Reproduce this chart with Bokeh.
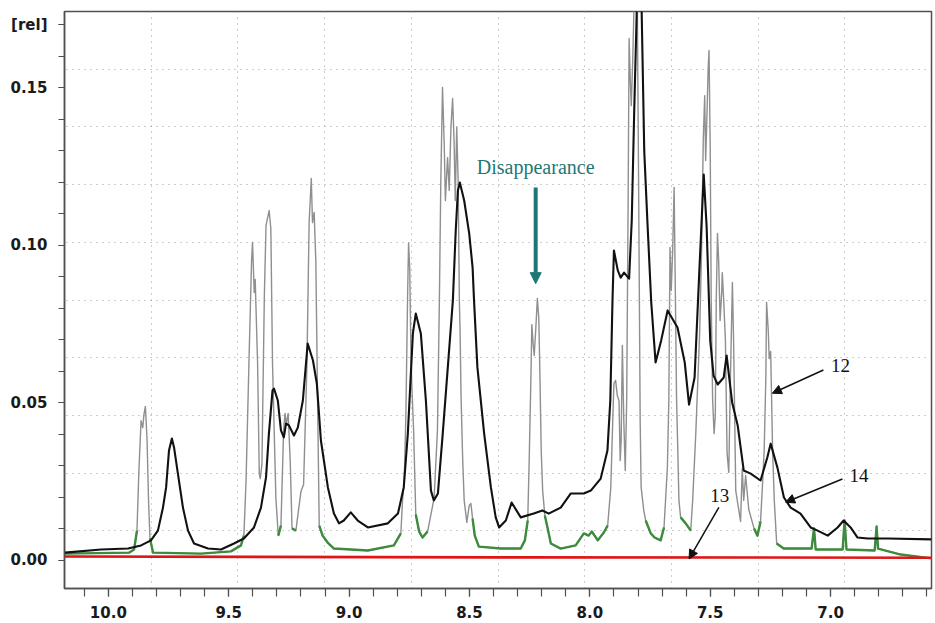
import numpy as np
from bokeh.plotting import figure
from bokeh.models import Range1d, FixedTicker, Label, Arrow, NormalHead, NumeralTickFormatter
from bokeh.embed import file_html
from bokeh.resources import INLINE

# ---- spectrum 14 (broad, black) : chemical shift [ppm], intensity [rel]
black_ppm = [10.180, 10.030, 9.918, 9.864, 9.823, 9.794, 9.773, 9.760, 9.748, 9.736, 9.727, 9.711,
             9.690, 9.669, 9.644, 9.586, 9.532, 9.478, 9.437, 9.395, 9.366, 9.345, 9.333, 9.318,
             9.312, 9.296, 9.283, 9.271, 9.262, 9.250, 9.229, 9.213, 9.192, 9.172, 9.150, 9.134,
             9.117, 9.088, 9.063, 9.042, 9.022, 8.993, 8.964, 8.922, 8.839, 8.797, 8.773, 8.756,
             8.735, 8.723, 8.702, 8.681, 8.660, 8.648, 8.631, 8.611, 8.590, 8.569, 8.557, 8.548,
             8.540, 8.522, 8.501, 8.487, 8.481, 8.467, 8.439, 8.411, 8.391, 8.377, 8.349, 8.325,
             8.287, 8.233, 8.197, 8.171, 8.121, 8.079, 8.025, 7.996, 7.955, 7.927, 7.915, 7.906,
             7.900, 7.884, 7.872, 7.858, 7.837, 7.826, 7.816, 7.805, 7.797, 7.785, 7.774, 7.760,
             7.745, 7.727, 7.704, 7.677, 7.636, 7.606, 7.588, 7.565, 7.544, 7.527, 7.515, 7.500,
             7.486, 7.469, 7.444, 7.432, 7.409, 7.386, 7.361, 7.332, 7.291, 7.263, 7.249, 7.221,
             7.194, 7.166, 7.125, 7.083, 7.054, 7.012, 6.971, 6.946, 6.917, 6.888, 6.846, 6.763, 6.581]
black_rel = [0.0024, 0.0034, 0.0037, 0.0047, 0.0063, 0.0094, 0.0167, 0.0231, 0.0348, 0.0386, 0.0358, 0.0275,
             0.0167, 0.0094, 0.0053, 0.0037, 0.0034, 0.0053, 0.0069, 0.0104, 0.0167, 0.0263, 0.0402, 0.0539,
             0.0545, 0.0507, 0.0412, 0.0390, 0.0434, 0.0428, 0.0396, 0.0421, 0.0507, 0.0688, 0.0634, 0.0561,
             0.0380, 0.0231, 0.0148, 0.0117, 0.0126, 0.0152, 0.0126, 0.0104, 0.0117, 0.0148, 0.0231, 0.0402,
             0.0720, 0.0783, 0.0720, 0.0507, 0.0221, 0.0190, 0.0212, 0.0402, 0.0612, 0.0824, 0.1047, 0.1174,
             0.1199, 0.1142, 0.1037, 0.0929, 0.0824, 0.0612, 0.0402, 0.0231, 0.0136, 0.0104, 0.0126, 0.0183,
             0.0136, 0.0148, 0.0158, 0.0148, 0.0167, 0.0212, 0.0212, 0.0221, 0.0259, 0.0348, 0.0508, 0.0824,
             0.0983, 0.0920, 0.0897, 0.0913, 0.0894, 0.1078, 0.1418, 0.1750, 0.1870, 0.1750, 0.1297, 0.1059,
             0.0818, 0.0628, 0.0697, 0.0793, 0.0739, 0.0628, 0.0494, 0.0580, 0.0939, 0.1224, 0.1059, 0.0697,
             0.0586, 0.0558, 0.0580, 0.0650, 0.0501, 0.0428, 0.0285, 0.0275, 0.0253, 0.0326, 0.0370, 0.0294,
             0.0199, 0.0167, 0.0148, 0.0104, 0.0094, 0.0078, 0.0104, 0.0126, 0.0104, 0.0072, 0.0069, 0.0069, 0.0066]

# ---- spectrum 12 (sharp, grey / green)
sharp_ppm = [10.180, 9.914, 9.893, 9.881, 9.873, 9.864, 9.857, 9.852, 9.846, 9.839, 9.833, 9.827, 9.814,
             9.615, 9.491, 9.449, 9.437, 9.428, 9.415, 9.405, 9.401, 9.394, 9.390, 9.380, 9.373, 9.369,
             9.362, 9.352, 9.345, 9.332, 9.325, 9.318, 9.304, 9.294, 9.283, 9.272, 9.266, 9.261, 9.253,
             9.244, 9.237, 9.221, 9.200, 9.189, 9.175, 9.166, 9.157, 9.152, 9.145, 9.138, 9.131, 9.124,
             9.110, 9.089, 9.063, 8.922, 8.814, 8.785, 8.778, 8.771, 8.764, 8.757, 8.753, 8.748, 8.743,
             8.739, 8.732, 8.723, 8.709, 8.695, 8.674, 8.647, 8.633, 8.625, 8.619, 8.612, 8.605, 8.600,
             8.591, 8.584, 8.577, 8.570, 8.564, 8.559, 8.553, 8.547, 8.542, 8.539, 8.535, 8.528, 8.522,
             8.511, 8.501, 8.494, 8.487, 8.478, 8.461, 8.370, 8.287, 8.270, 8.258, 8.252, 8.245, 8.241,
             8.235, 8.231, 8.225, 8.218, 8.212, 8.207, 8.202, 8.196, 8.187, 8.176, 8.162, 8.121, 8.059,
             8.025, 8.005, 7.992, 7.967, 7.942, 7.926, 7.913, 7.905, 7.900, 7.893, 7.886, 7.879, 7.874,
             7.870, 7.865, 7.859, 7.853, 7.847, 7.841, 7.837, 7.832, 7.828, 7.822, 7.816, 7.809, 7.803,
             7.797, 7.791, 7.787, 7.776, 7.768, 7.747, 7.731, 7.706, 7.692, 7.678, 7.672, 7.667, 7.662,
             7.656, 7.650, 7.645, 7.640, 7.630, 7.623, 7.602, 7.581, 7.573, 7.560, 7.544, 7.536, 7.529,
             7.523, 7.519, 7.513, 7.509, 7.505, 7.500, 7.496, 7.490, 7.484, 7.479, 7.475, 7.470, 7.465,
             7.459, 7.452, 7.450, 7.444, 7.437, 7.430, 7.423, 7.416, 7.408, 7.403, 7.394, 7.374, 7.367,
             7.361, 7.353, 7.340, 7.318, 7.304, 7.291, 7.282, 7.276, 7.269, 7.266, 7.259, 7.255, 7.249,
             7.245, 7.241, 7.234, 7.224, 7.195, 7.079, 7.069, 7.062, 6.950, 6.942, 6.934, 6.817, 6.809,
             6.803, 6.709, 6.581]
sharp_rel = [0.0021, 0.0024, 0.0034, 0.0094, 0.0285, 0.0443, 0.0421, 0.0463, 0.0488, 0.0380, 0.0190, 0.0069, 0.0024,
             0.0021, 0.0028, 0.0047, 0.0078, 0.0250, 0.0656, 0.0951, 0.1009, 0.0850, 0.0891, 0.0624, 0.0275, 0.0259,
             0.0304, 0.0837, 0.1063, 0.1110, 0.1053, 0.0624, 0.0196, 0.0078, 0.0110, 0.0412, 0.0466, 0.0431, 0.0466,
             0.0304, 0.0101, 0.0094, 0.0218, 0.0240, 0.0624, 0.1072, 0.1212, 0.1072, 0.1104, 0.0945, 0.0516, 0.0110,
             0.0078, 0.0056, 0.0037, 0.0031, 0.0047, 0.0085, 0.0190, 0.0250, 0.0466, 0.0837, 0.1006, 0.0923, 0.0647,
             0.0548, 0.0412, 0.0145, 0.0091, 0.0072, 0.0091, 0.0196, 0.0412, 0.0824, 0.1205, 0.1501, 0.1323, 0.1142,
             0.1278, 0.1174, 0.1374, 0.1466, 0.1332, 0.1142, 0.1374, 0.1205, 0.0824, 0.0729, 0.0520, 0.0316, 0.0190,
             0.0120, 0.0174, 0.0180, 0.0132, 0.0078, 0.0043, 0.0037, 0.0037, 0.0063, 0.0126, 0.0316, 0.0571, 0.0748,
             0.0682, 0.0650, 0.0729, 0.0831, 0.0767, 0.0571, 0.0348, 0.0221, 0.0142, 0.0104, 0.0053, 0.0037, 0.0047,
             0.0085, 0.0078, 0.0091, 0.0063, 0.0088, 0.0110, 0.0231, 0.0443, 0.0561, 0.0571, 0.0523, 0.0507, 0.0316,
             0.0380, 0.0682, 0.0443, 0.0285, 0.0507, 0.1142, 0.1656, 0.1523, 0.1443, 0.1586, 0.1777, 0.1840, 0.1777,
             0.1142, 0.0443, 0.0231, 0.0158, 0.0126, 0.0085, 0.0072, 0.0063, 0.0104, 0.0294, 0.0507, 0.0993, 0.0856,
             0.0983, 0.1183, 0.0856, 0.0520, 0.0190, 0.0136, 0.0117, 0.0094, 0.0190, 0.0402, 0.0720, 0.0983, 0.1332,
             0.1475, 0.1269, 0.1428, 0.1555, 0.1618, 0.1301, 0.0824, 0.0507, 0.0402, 0.0459, 0.0824, 0.1037, 0.0951,
             0.0761, 0.0856, 0.0913, 0.0824, 0.0697, 0.0339, 0.0279, 0.0580, 0.0882, 0.0697, 0.0221, 0.0123, 0.0291,
             0.0190, 0.0269, 0.0161, 0.0101, 0.0078, 0.0123, 0.0253, 0.0348, 0.0580, 0.0818, 0.0729, 0.0640, 0.0663,
             0.0507, 0.0348, 0.0190, 0.0053, 0.0037, 0.0037, 0.0101, 0.0034, 0.0034, 0.0126, 0.0034, 0.0031, 0.0107,
             0.0037, 0.0018, 0.0006]

# ---- spectrum 13 (red, flat)
red_ppm = [10.180, 8.400, 6.581]
red_rel = [0.0012, 0.0009, 0.0008]

x_major = [10.0, 9.5, 9.0, 8.5, 8.0, 7.5, 7.0]
y_major = [0.0, 0.05, 0.10, 0.15, 0.17]

TEAL = "#1f7775"

x0, x1 = 10.182, 6.581
y0, y1 = -0.00898, 0.17419

p = figure(width=935, height=623, output_backend="svg", toolbar_location=None,
           x_range=Range1d(x0, x1), y_range=Range1d(y0, y1),
           min_border_left=64, min_border_right=4, min_border_top=11, min_border_bottom=35)
p.background_fill_color = "white"
p.border_fill_color = "white"
p.outline_line_color = "#505050"
p.outline_line_width = 1.5

# grid divides frame into 10 x 10 cells
p.xgrid.ticker = FixedTicker(ticks=[x0 + k * (x1 - x0) / 10 for k in range(1, 10)])
p.ygrid.ticker = FixedTicker(ticks=[y0 + k * (y1 - y0) / 10 for k in range(1, 10)])
for g in (p.xgrid, p.ygrid):
    g.grid_line_color = "#9a9a9a"
    g.grid_line_dash = "1 5"
    g.grid_line_width = 1

x_minor = [round(6.6 + 0.1 * i, 1) for i in range(36)]
y_minor = [round(0.01 * i, 2) for i in range(18)]
p.xaxis.ticker = FixedTicker(ticks=x_major, minor_ticks=x_minor)
p.yaxis.ticker = FixedTicker(ticks=y_major, minor_ticks=y_minor)
p.xaxis.formatter = NumeralTickFormatter(format="0.0")
p.yaxis.formatter = NumeralTickFormatter(format="0.00")
p.yaxis.major_label_overrides = {0.17: "[rel]"}

for ax, tout in ((p.xaxis, 8), (p.yaxis, 6)):
    ax.axis_line_color = "#505050"
    ax.axis_line_width = 1.5
    ax.major_tick_line_color = "#505050"
    ax.minor_tick_line_color = "#505050"
    ax.major_tick_line_width = 1.2
    ax.minor_tick_line_width = 1.2
    ax.major_tick_in = 0
    ax.minor_tick_in = 0
    ax.major_tick_out = tout
    ax.minor_tick_out = tout
    ax.major_label_text_font = "DejaVu Sans"
    ax.major_label_text_font_style = "bold"
    ax.major_label_text_font_size = "15px"
    ax.major_label_text_color = "#1a1a1a"
p.xaxis.major_label_standoff = 9
p.yaxis.major_label_standoff = 11

# spectra
sharp_rel_arr = np.array(sharp_rel)
green_rel = np.where(sharp_rel_arr < 0.015, sharp_rel_arr, np.nan)
p.line(sharp_ppm, sharp_rel, line_color="#8f8f8f", line_width=1.4, line_join="round")
p.line(sharp_ppm, green_rel, line_color="#3d8b3d", line_width=2.4, line_join="round")
p.line(black_ppm, black_rel, line_color="#111111", line_width=2.1, line_join="round")
p.line(red_ppm, red_rel, line_color="#e01515", line_width=2.6)

# annotations
p.add_layout(Label(x=8.225, y=0.1248, text="Disappearance", text_align="center", text_baseline="middle",
                   text_font="Liberation Serif", text_font_size="20px", text_color=TEAL))
p.add_layout(Arrow(end=NormalHead(size=11, fill_color=TEAL, line_color=TEAL, line_width=1),
                   x_start=8.225, y_start=0.1183, x_end=8.225, y_end=0.0878,
                   line_color=TEAL, line_width=4))

labels = [("12", 6.959, 0.0618), ("14", 6.882, 0.0269), ("13", 7.461, 0.0205)]
for t, lx, ly in labels:
    p.add_layout(Label(x=lx, y=ly, text=t, text_align="center", text_baseline="middle",
                       text_font="Liberation Serif", text_font_size="19px", text_color="#111111"))
arrows = [(7.030, 0.0604, 7.242, 0.0530), (6.951, 0.0258, 7.187, 0.0184), (7.464, 0.0168, 7.588, 0.0004)]
for xs, ys, xe, ye in arrows:
    p.add_layout(Arrow(end=NormalHead(size=9, fill_color="#111111", line_color="#111111", line_width=1),
                       x_start=xs, y_start=ys, x_end=xe, y_end=ye, line_color="#111111", line_width=1.5))

p.add_layout(Label(x=6.68, y=-0.0169, text="[ppm]", text_align="center", text_baseline="middle",
                   text_font="DejaVu Sans", text_font_style="bold", text_font_size="15px",
                   text_color="#1a1a1a"))

open("out.html", "w").write(file_html(p, INLINE))
